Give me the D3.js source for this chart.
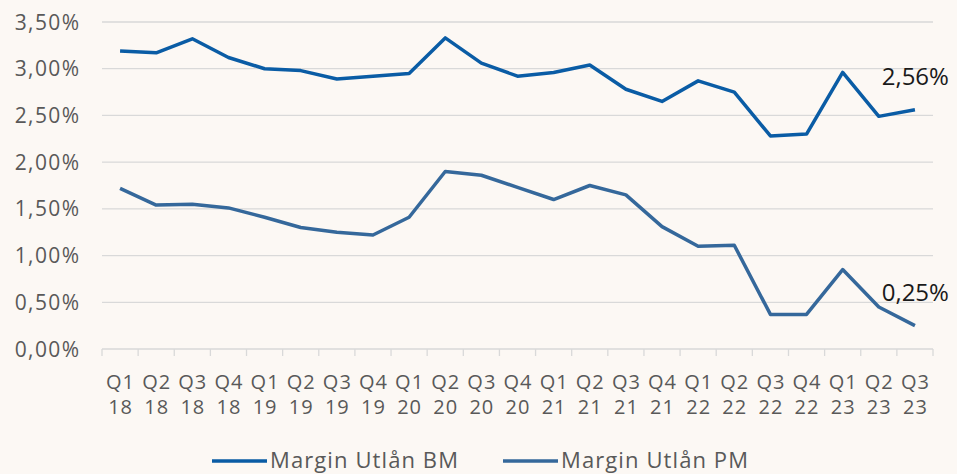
<!DOCTYPE html>
<html>
<head>
<meta charset="utf-8">
<script src="https://cdn.jsdelivr.net/npm/d3@7"></script>
<style>
  html, body { margin: 0; padding: 0; background: #fcf8f4; }
  text { font-family: "Open Sans", Lato, sans-serif; }
</style>
</head>
<body>
<div id="chart"></div>
<script>
// Quarter labels (two lines each)
const quarters = ["Q1","Q2","Q3","Q4","Q1","Q2","Q3","Q4","Q1","Q2","Q3","Q4",
                  "Q1","Q2","Q3","Q4","Q1","Q2","Q3","Q4","Q1","Q2","Q3"];
const years = ["18","18","18","18","19","19","19","19","20","20","20","20",
               "21","21","21","21","22","22","22","22","23","23","23"];

// Series values in percent
const marginBM = [3.19, 3.17, 3.32, 3.12, 3.00, 2.98, 2.89, 2.92, 2.95, 3.33, 3.06, 2.92,
                  2.96, 3.04, 2.78, 2.65, 2.87, 2.75, 2.28, 2.30, 2.96, 2.49, 2.56];
const marginPM = [1.72, 1.54, 1.55, 1.51, 1.41, 1.30, 1.25, 1.22, 1.41, 1.90, 1.86, 1.73,
                  1.60, 1.75, 1.65, 1.31, 1.10, 1.11, 0.37, 0.37, 0.85, 0.45, 0.25];

const yTicks = [0, 0.5, 1, 1.5, 2, 2.5, 3, 3.5];
const seriesNames = ["Margin Utlån BM", "Margin Utlån PM"];
const colors = ["#0a5ca5", "#35689b"];

const width = 957, height = 474;
const margin = { left: 102, right: 24, top: 22, bottom: 125 };

const svg = d3.select('#chart')
    .append('svg')
    .attr('width', width)
    .attr('height', height);

svg.append('rect')
    .attr('width', width)
    .attr('height', height)
    .attr('fill', '#fcf8f4');

const idx = d3.range(quarters.length);

const x = d3.scaleBand()
    .domain(idx)
    .range([margin.left, width - margin.right]);

const y = d3.scaleLinear()
    .domain([0, 3.5])
    .range([349, margin.top]);

const fmt = v => d3.format('.2f')(v).replace('.', ',') + '%';

// Gridlines
svg.append('g')
    .selectAll('line')
    .data(yTicks.filter(d => d > 0))
    .enter()
    .append('line')
    .attr('x1', margin.left)
    .attr('x2', width - margin.right)
    .attr('y1', d => y(d))
    .attr('y2', d => y(d))
    .attr('stroke', '#d9d9d9')
    .attr('stroke-width', 1.3);

// Y axis labels
svg.append('g')
    .selectAll('text')
    .data(yTicks)
    .enter()
    .append('text')
    .attr('x', 80.5)
    .attr('y', d => y(d))
    .attr('dy', '0.36em')
    .attr('text-anchor', 'end')
    .style('font-size', '21px')
    .style('letter-spacing', '1.4px')
    .style('fill', '#595959')
    .text(d => fmt(d));

// X axis line and tick marks at category boundaries
const x0 = y(0);
svg.append('line')
    .attr('x1', margin.left)
    .attr('x2', width - margin.right)
    .attr('y1', x0)
    .attr('y2', x0)
    .attr('stroke', '#d9d9d9')
    .attr('stroke-width', 1.3);

svg.append('g')
    .selectAll('line')
    .data(d3.range(quarters.length + 1))
    .enter()
    .append('line')
    .attr('x1', i => margin.left + i * x.bandwidth())
    .attr('x2', i => margin.left + i * x.bandwidth())
    .attr('y1', x0)
    .attr('y2', x0 + 7)
    .attr('stroke', '#d9d9d9')
    .attr('stroke-width', 1.3);

// X axis labels, two rows
[[quarters, 389], [years, 414]].forEach(([labels, ty]) => {
    svg.append('g')
        .selectAll('text')
        .data(idx)
        .enter()
        .append('text')
        .attr('x', i => x(i) + x.bandwidth() / 2 + 0.5)
        .attr('y', ty)
        .attr('text-anchor', 'middle')
        .style('font-size', '20px')
        .style('letter-spacing', '1px')
        .style('fill', '#595959')
        .text(i => labels[i]);
});

// Lines
const line = d3.line()
    .x((d, i) => x(i) + x.bandwidth() / 2)
    .y(d => y(d));

[marginBM, marginPM].forEach((s, k) => {
    svg.append('path')
        .datum(s)
        .attr('fill', 'none')
        .attr('stroke', colors[k])
        .attr('stroke-width', 3.5)
        .attr('stroke-linejoin', 'round')
        .attr('d', line);

    const last = s.length - 1;
    svg.append('text')
        .attr('x', x(last) + x.bandwidth() / 2 + 34)
        .attr('y', y(s[last]) - 33)
        .attr('dy', '0.36em')
        .attr('text-anchor', 'end')
        .style('font-size', '24px')
        .style('fill', '#1a1a1a')
        .text(fmt(s[last]));
});

// Legend
const legendX = [212, 503];
const legend = svg.selectAll('.legend')
    .data(seriesNames)
    .enter()
    .append('g')
    .attr('class', 'legend')
    .attr('transform', (d, i) => `translate(${legendX[i]}, 461)`);

legend.append('line')
    .attr('x1', 0)
    .attr('x2', 55)
    .attr('stroke', (d, i) => colors[i])
    .attr('stroke-width', 3.5);

legend.append('text')
    .attr('x', 58)
    .attr('y', 6.5)
    .style('font-size', '22px')
    .style('letter-spacing', '1.1px')
    .style('fill', '#595959')
    .text(d => d);
</script>
</body>
</html>
